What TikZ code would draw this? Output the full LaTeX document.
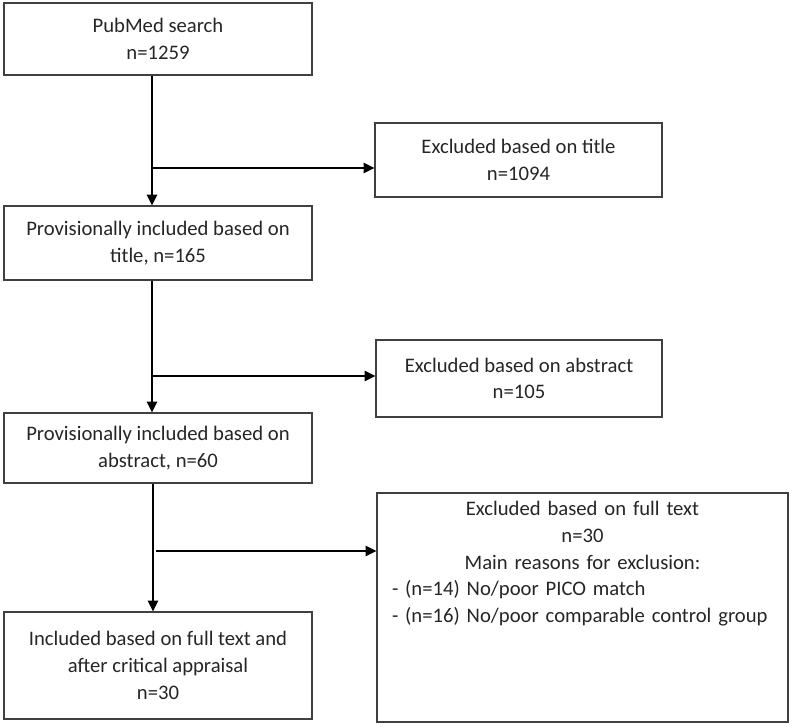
\documentclass[tikz,border=0pt]{standalone}
\usepackage{fontspec}
\setmainfont{Carlito}
\usetikzlibrary{arrows.meta}

\begin{document}
\begin{tikzpicture}[x=0.75pt,y=-0.75pt,
        box/.style={draw=black!75,line width=0.9pt,fill=white,align=center,
            text=black!85,inner sep=0pt,font=\fontsize{15.5}{20}\selectfont},
        flow/.style={line width=1.5pt,-{Triangle[length=8pt,width=7.5pt]}}]
                \useasboundingbox (0,0) rectangle (792,726);

                \node[box,minimum width=231pt,minimum height=54pt] (search) at (158,39) {PubMed search\\n=1259};
                \node[box,minimum width=231pt,minimum height=55.5pt] (provtitle) at (158,243) {Provisionally included based on\\title, n=165};
                \node[box,minimum width=231pt,minimum height=52.5pt] (provabs) at (158,448) {Provisionally included based on\\abstract, n=60};
                \node[box,minimum width=231pt,minimum height=80.25pt] (included) at (158,665.5) {Included based on full text and\\after critical appraisal\\n=30};

                \node[box,minimum width=215.25pt,minimum height=55.5pt] (exttitle) at (518.5,160) {Excluded based on title\\n=1094};
                \node[box,minimum width=214.5pt,minimum height=57.75pt] (extabs) at (519,378.5) {Excluded based on abstract\\n=105};
                \node[box,minimum width=308.25pt,minimum height=171.75pt] (extfull) at (582.5,607.5) {};
                \node[box,draw=none,fill=none,anchor=north,align=left,text width=285.75pt] (extfulltxt) at (582.5,501)
                    {\makebox[285.75pt]{Excluded based on full text}\\
                     \makebox[285.75pt]{n=30}\\
                     \makebox[285.75pt]{Main reasons for exclusion:}\\
                     - (n=14) No/poor PICO match\\
                     - (n=16) No/poor comparable control group};

                \coordinate (j1) at (152,168);
                \coordinate (j2) at (152,376);
                \coordinate (j3) at (156,551);

                \draw[flow] (search.south -| j1) -- (provtitle.north -| j1);
                \draw[flow] (j1) -- (j1 -| exttitle.west);
                \draw[flow] (provtitle.south -| j2) -- (provabs.north -| j2);
                \draw[flow] (j2) -- (j2 -| extabs.west);
                \draw[flow] ([xshift=0.75pt]provabs.south -| j2) -- ([xshift=0.75pt]included.north -| j2);
                \draw[flow] (j3) -- (j3 -| extfull.west);
            \end{tikzpicture}
\end{document}
